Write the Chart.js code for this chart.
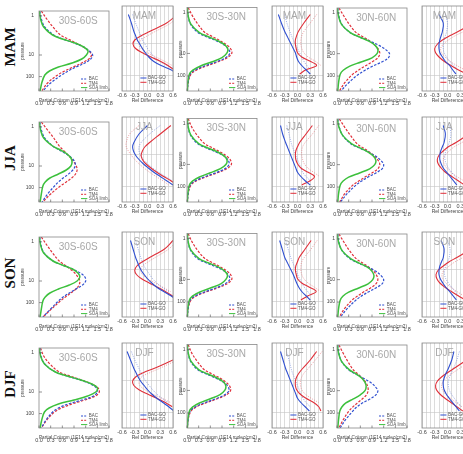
<!DOCTYPE html>
<html>
<head>
<meta charset="utf-8">
<script src="https://cdn.jsdelivr.net/npm/chart.js@4.4.1/dist/chart.umd.min.js"></script>
<style>
  html, body { margin: 0; padding: 0; background: #fff; }
  body { width: 463px; height: 454px; overflow: hidden; position: relative; }
  canvas { position: absolute; }
  .season {
    position: absolute; width: 60px; height: 20px; line-height: 20px; text-align: center;
    font: bold 15px "Liberation Serif", "DejaVu Serif", serif; color: #111;
    transform: rotate(-90deg);
  }
</style>
</head>
<body>
<script>
// ---- data ----
const seasons = ["MAM", "JJA", "SON", "DJF"];
const regions = ["30S-60S", "30S-30N", "30N-60N"];
// vertical position of the profile levels (0 = top of panel, 1 = bottom)
const levels = [0, 0.1, 0.2, 0.3, 0.35, 0.4, 0.45, 0.5, 0.55, 0.6, 0.65, 0.7, 0.75, 0.8, 0.9, 1.0];
const pressureTickPos = [0.06, 0.55, 0.82];
const pressureTickLabels = ["1", "10", "100"];
const relGridPos = [0.44, 0.82];

// partial column profiles (1E14 molec/cm2), one row per region
const soaMAM = [
  [0.01,0.04,0.12,0.35,0.6,0.92,1.15,1.26,1.22,1.1,0.85,0.5,0.27,0.15,0.07,0.03],
  [0.01,0.03,0.1,0.32,0.55,0.8,0.98,1.05,1.02,0.9,0.65,0.35,0.15,0.06,0.02,0.01],
  [0.01,0.04,0.12,0.35,0.58,0.82,0.98,1.05,1.03,0.9,0.62,0.33,0.16,0.08,0.04,0.02]];
const bacMAM = [
  [0.02,0.06,0.15,0.38,0.62,0.9,1.15,1.3,1.38,1.33,1.18,0.95,0.75,0.58,0.3,0.1],
  [0.01,0.03,0.09,0.28,0.5,0.76,0.96,1.07,1.1,1.0,0.76,0.45,0.2,0.08,0.03,0.01],
  [0.02,0.05,0.13,0.35,0.58,0.85,1.08,1.25,1.35,1.32,1.15,0.92,0.72,0.55,0.3,0.1]];
const tm4MAM = [
  [0.06,0.2,0.36,0.55,0.75,0.95,1.14,1.28,1.35,1.28,1.1,0.88,0.66,0.48,0.22,0.07],
  [0.03,0.14,0.28,0.46,0.66,0.86,1.03,1.13,1.15,1.04,0.8,0.5,0.24,0.1,0.03,0.01],
  [0.05,0.18,0.32,0.5,0.68,0.85,0.98,1.07,1.1,1.05,0.9,0.72,0.55,0.4,0.2,0.06]];

const soaJJA = [
  [0.01,0.04,0.12,0.35,0.55,0.72,0.82,0.85,0.82,0.7,0.5,0.28,0.16,0.1,0.06,0.03],
  [0.01,0.03,0.1,0.3,0.52,0.78,0.96,1.03,1.0,0.86,0.6,0.32,0.14,0.06,0.02,0.01],
  [0.01,0.05,0.15,0.38,0.6,0.8,0.94,1.0,0.97,0.84,0.58,0.3,0.15,0.08,0.04,0.02]];
const bacJJA = [
  [0.02,0.06,0.15,0.35,0.52,0.7,0.84,0.92,0.93,0.87,0.76,0.62,0.5,0.4,0.22,0.08],
  [0.01,0.03,0.09,0.27,0.48,0.74,0.95,1.06,1.08,0.98,0.74,0.44,0.2,0.08,0.03,0.01],
  [0.02,0.06,0.15,0.36,0.58,0.82,1.0,1.13,1.2,1.16,1.0,0.8,0.62,0.48,0.26,0.09]];
const tm4JJA = [
  [0.06,0.22,0.38,0.52,0.62,0.72,0.82,0.9,0.96,0.98,0.94,0.84,0.7,0.55,0.3,0.1],
  [0.03,0.12,0.26,0.45,0.64,0.85,1.02,1.12,1.14,1.03,0.78,0.48,0.23,0.1,0.03,0.01],
  [0.06,0.2,0.35,0.52,0.68,0.84,0.97,1.06,1.1,1.05,0.9,0.72,0.55,0.4,0.2,0.07]];

const soaSON = [
  [0.01,0.04,0.12,0.36,0.6,0.86,1.0,1.05,0.98,0.78,0.5,0.28,0.16,0.1,0.06,0.03],
  [0.01,0.03,0.1,0.31,0.54,0.8,0.97,1.04,1.0,0.88,0.62,0.33,0.14,0.06,0.02,0.01],
  [0.01,0.04,0.13,0.36,0.57,0.78,0.9,0.95,0.92,0.8,0.56,0.3,0.15,0.08,0.04,0.02]];
const bacSON = [
  [0.02,0.05,0.13,0.36,0.6,0.86,1.06,1.18,1.2,1.12,0.95,0.78,0.62,0.5,0.3,0.1],
  [0.01,0.03,0.09,0.27,0.49,0.75,0.96,1.07,1.1,0.99,0.75,0.45,0.2,0.08,0.03,0.01],
  [0.02,0.05,0.13,0.34,0.55,0.8,1.0,1.13,1.2,1.16,1.0,0.8,0.62,0.48,0.26,0.09]];
const tm4SON = [
  [0.06,0.2,0.35,0.52,0.66,0.8,0.92,1.0,1.05,1.03,0.95,0.82,0.68,0.55,0.32,0.1],
  [0.03,0.13,0.27,0.46,0.65,0.86,1.03,1.13,1.15,1.04,0.79,0.49,0.23,0.1,0.03,0.01],
  [0.05,0.18,0.32,0.5,0.66,0.82,0.95,1.02,1.05,1.0,0.86,0.68,0.52,0.38,0.19,0.06]];

const soaDJF = [
  [0.01,0.04,0.14,0.42,0.72,1.08,1.36,1.5,1.46,1.25,0.9,0.5,0.26,0.14,0.07,0.03],
  [0.01,0.03,0.1,0.3,0.52,0.77,0.94,1.0,0.97,0.85,0.6,0.32,0.14,0.06,0.02,0.01],
  [0.01,0.04,0.12,0.32,0.5,0.64,0.72,0.75,0.72,0.6,0.42,0.22,0.12,0.07,0.04,0.02]];
const bacDJF = [
  [0.02,0.05,0.15,0.42,0.72,1.06,1.33,1.48,1.5,1.4,1.1,0.75,0.5,0.35,0.18,0.06],
  [0.01,0.03,0.09,0.27,0.48,0.73,0.93,1.05,1.08,0.98,0.74,0.44,0.2,0.08,0.03,0.01],
  [0.02,0.05,0.12,0.3,0.48,0.68,0.86,0.98,1.05,1.0,0.85,0.65,0.5,0.4,0.22,0.08]];
const tm4DJF = [
  [0.04,0.12,0.28,0.52,0.8,1.1,1.36,1.52,1.55,1.45,1.18,0.85,0.58,0.4,0.2,0.06],
  [0.03,0.12,0.26,0.44,0.63,0.84,1.0,1.1,1.12,1.02,0.78,0.48,0.23,0.1,0.03,0.01],
  [0.05,0.16,0.28,0.42,0.54,0.65,0.74,0.79,0.8,0.76,0.65,0.52,0.4,0.3,0.16,0.05]];

// relative differences (null = not plotted)
const _ = null;
const bacGoMAM = [
  [_,-0.45,-0.38,-0.32,-0.28,-0.24,-0.18,-0.12,-0.05,0.03,0.14,0.32,0.55,0.7,_,_],
  [_,-0.45,-0.38,-0.3,-0.25,-0.2,-0.15,-0.1,-0.05,-0.02,0.02,0.1,0.2,0.3,_,_],
  [_,-0.2,-0.1,-0.12,-0.15,-0.18,-0.2,-0.2,-0.18,-0.12,-0.05,0.05,0.12,0.2,_,_]];
const tm4GoMAM = [
  [_,0.7,0.45,0.05,-0.15,-0.3,-0.34,-0.28,-0.12,0.08,0.3,0.48,0.62,0.72,_,_],
  [_,0.3,0.15,0.02,-0.02,-0.05,-0.05,-0.03,0.0,0.1,0.3,0.45,0.2,0.05,_,_],
  [_,_,0.6,0.25,0.05,-0.12,-0.24,-0.3,-0.28,-0.2,-0.08,0.08,0.25,0.45,_,_]];
const bacGoSdMAM = [
  [_,-0.35,-0.28,-0.2,-0.16,-0.12,-0.06,0.0,0.08,0.16,0.28,0.46,0.66,_,_,_],
  [_,-0.3,-0.25,-0.18,-0.14,-0.1,-0.05,0.0,0.05,0.1,0.15,0.22,0.3,_,_,_],
  [_,-0.05,0.0,-0.02,-0.05,-0.08,-0.1,-0.1,-0.08,-0.02,0.05,0.15,0.22,_,_,_]];
const tm4GoSdMAM = [
  [_,0.75,0.55,0.18,0.0,-0.15,-0.2,-0.15,0.0,0.2,0.4,0.58,_,_,_,_],
  [_,0.45,0.3,0.15,0.1,0.08,0.08,0.1,0.15,0.25,0.42,0.55,_,_,_,_],
  [_,_,0.7,0.38,0.18,0.02,-0.1,-0.16,-0.14,-0.06,0.06,0.22,0.4,_,_,_]];

const bacGoJJA = [
  [_,0.0,-0.2,-0.32,-0.35,-0.33,-0.28,-0.2,-0.1,0.02,0.15,0.3,0.45,0.6,_,_],
  [_,-0.4,-0.35,-0.28,-0.24,-0.2,-0.16,-0.12,-0.08,-0.04,0.0,0.08,0.18,0.3,_,_],
  [_,-0.1,-0.05,-0.08,-0.12,-0.16,-0.18,-0.18,-0.15,-0.1,-0.02,0.06,0.14,0.22,_,_]];
const tm4GoJJA = [
  [_,0.55,0.3,0.05,-0.06,-0.12,-0.15,-0.12,-0.04,0.08,0.22,0.38,0.55,0.7,_,_],
  [_,0.35,0.2,0.05,0.0,-0.04,-0.05,-0.04,0.0,0.08,0.25,0.4,0.3,0.1,_,_],
  [_,_,0.5,0.2,0.02,-0.1,-0.2,-0.24,-0.22,-0.15,-0.05,0.1,0.25,0.4,_,_]];
const bacGoSdJJA = [
  [_,0.3,0.05,-0.15,-0.2,-0.2,-0.16,-0.1,0.0,0.12,0.26,0.42,0.58,_,_,_],
  [_,-0.25,-0.2,-0.15,-0.12,-0.08,-0.04,0.0,0.04,0.08,0.12,0.2,0.3,_,_,_],
  [_,0.05,0.08,0.04,0.0,-0.04,-0.06,-0.06,-0.03,0.02,0.1,0.18,0.26,_,_,_]];
const tm4GoSdJJA = [
  [_,-0.2,-0.42,-0.5,-0.5,-0.45,-0.38,-0.3,-0.2,-0.08,0.05,0.2,0.36,0.5,_,_],
  [_,0.5,0.35,0.18,0.12,0.1,0.1,0.12,0.16,0.24,0.38,0.52,_,_,_,_],
  [_,_,0.62,0.34,0.16,0.04,-0.06,-0.1,-0.08,-0.02,0.08,0.22,0.38,_,_,_]];

const bacGoSON = [
  [_,-0.4,-0.34,-0.28,-0.24,-0.2,-0.15,-0.08,0.0,0.1,0.22,0.38,0.55,0.68,_,_],
  [_,-0.42,-0.36,-0.3,-0.25,-0.2,-0.15,-0.1,-0.06,-0.02,0.03,0.1,0.2,0.3,_,_],
  [_,-0.15,-0.08,-0.1,-0.14,-0.18,-0.2,-0.2,-0.17,-0.11,-0.04,0.05,0.13,0.21,_,_]];
const tm4GoSON = [
  [_,0.6,0.4,0.05,-0.12,-0.25,-0.3,-0.26,-0.14,0.04,0.24,0.42,0.58,0.7,_,_],
  [_,0.32,0.18,0.04,0.0,-0.04,-0.05,-0.03,0.0,0.1,0.28,0.44,0.25,0.08,_,_],
  [_,_,0.55,0.22,0.04,-0.1,-0.22,-0.27,-0.25,-0.18,-0.06,0.09,0.25,0.42,_,_]];
const bacGoSdSON = [
  [_,-0.28,-0.22,-0.16,-0.12,-0.08,-0.02,0.05,0.12,0.22,0.34,0.5,_,_,_,_],
  [_,-0.28,-0.22,-0.16,-0.12,-0.08,-0.04,0.0,0.05,0.1,0.16,0.24,0.32,_,_,_],
  [_,0.0,0.06,0.04,0.0,-0.04,-0.07,-0.07,-0.04,0.02,0.1,0.18,0.26,_,_,_]];
const tm4GoSdSON = [
  [_,0.7,0.5,0.18,0.02,-0.12,-0.16,-0.12,0.0,0.18,0.36,0.54,_,_,_,_],
  [_,0.46,0.32,0.16,0.1,0.08,0.08,0.1,0.15,0.25,0.4,0.54,_,_,_,_],
  [_,_,0.66,0.36,0.18,0.04,-0.08,-0.13,-0.11,-0.04,0.08,0.22,0.38,_,_,_]];

const bacGoDJF = [
  [_,-0.48,-0.4,-0.32,-0.27,-0.22,-0.16,-0.08,0.0,0.1,0.22,0.36,0.5,0.62,_,_],
  [_,-0.4,-0.34,-0.28,-0.24,-0.2,-0.16,-0.12,-0.08,-0.04,0.0,0.08,0.18,0.28,_,_],
  [_,0.15,0.1,0.02,-0.03,-0.07,-0.1,-0.1,-0.08,-0.03,0.04,0.12,0.2,0.28,_,_]];
const tm4GoDJF = [
  [_,_,0.6,0.15,-0.1,-0.28,-0.35,-0.32,-0.2,0.0,0.22,0.42,0.58,_,_,_],
  [_,0.45,0.3,0.12,0.04,-0.02,-0.05,-0.05,-0.02,0.06,0.2,0.38,0.5,0.55,_,_],
  [_,_,0.45,0.15,0.0,-0.14,-0.24,-0.28,-0.26,-0.18,-0.06,0.08,0.22,0.36,_,_]];
const bacGoSdDJF = [
  [_,-0.38,-0.3,-0.2,-0.15,-0.1,-0.04,0.04,0.12,0.22,0.34,0.48,_,_,_,_],
  [_,-0.26,-0.2,-0.15,-0.12,-0.08,-0.04,0.0,0.04,0.08,0.13,0.2,0.3,_,_,_],
  [_,0.28,0.22,0.14,0.09,0.05,0.02,0.02,0.04,0.09,0.16,0.24,0.32,_,_,_]];
const tm4GoSdDJF = [
  [_,_,0.7,0.28,0.05,-0.14,-0.2,-0.18,-0.06,0.12,0.34,0.54,_,_,_,_],
  [_,0.58,0.42,0.25,0.16,0.1,0.07,0.07,0.1,0.18,0.32,0.5,_,_,_,_],
  [_,_,0.56,0.28,0.13,0.0,-0.1,-0.14,-0.12,-0.05,0.07,0.2,0.34,_,_,_]];

// ---- layout ----
const ROW_TOP = [6, 117, 232, 343];
const PLOT_H = 85;
const PROF_LEFT = [39, 187, 337];
const PROF_AXIS_W = [20, 10, 12];
const PROF_TICK_PAD = [5, 1.5, 2];
const PROF_W = 70;
const REL_LEFT = [122, 272, 422];
const REL_W = 51;

const BLUE = "#2f4fd0";
const RED = "#e0303a";
const GREEN = "#3cc03c";
const FONT = "'Liberation Sans', 'DejaVu Sans', sans-serif";

const table = {
  MAM: { soa: soaMAM, bac: bacMAM, tm4: tm4MAM, bacGo: bacGoMAM, tm4Go: tm4GoMAM, bacSd: bacGoSdMAM, tm4Sd: tm4GoSdMAM },
  JJA: { soa: soaJJA, bac: bacJJA, tm4: tm4JJA, bacGo: bacGoJJA, tm4Go: tm4GoJJA, bacSd: bacGoSdJJA, tm4Sd: tm4GoSdJJA },
  SON: { soa: soaSON, bac: bacSON, tm4: tm4SON, bacGo: bacGoSON, tm4Go: tm4GoSON, bacSd: bacGoSdSON, tm4Sd: tm4GoSdSON },
  DJF: { soa: soaDJF, bac: bacDJF, tm4: tm4DJF, bacGo: bacGoDJF, tm4Go: tm4GoDJF, bacSd: bacGoSdDJF, tm4Sd: tm4GoSdDJF }
};

function toPoints(values) {
  const pts = [];
  values.forEach((v, i) => { if (v !== null) pts.push({ x: v, y: levels[i] }); });
  return pts;
}

// box, inward ticks, panel title and legend
const decor = {
  id: "decor",
  afterDraw(chart, args, o) {
    const { ctx, chartArea: a } = chart;
    ctx.save();
    ctx.strokeStyle = "#888";
    ctx.lineWidth = 0.8;
    ctx.strokeRect(a.left, a.top, a.width, a.height);
    if (o.ticks) {
      ctx.strokeStyle = "#666";
      ctx.lineWidth = 0.7;
      chart.scales.x.ticks.forEach(t => {
        const px = chart.scales.x.getPixelForValue(t.value);
        ctx.beginPath(); ctx.moveTo(px, a.bottom); ctx.lineTo(px, a.bottom - 2.5); ctx.stroke();
      });
      pressureTickPos.forEach(v => {
        const py = chart.scales.y.getPixelForValue(v);
        ctx.beginPath(); ctx.moveTo(a.left, py); ctx.lineTo(a.left + 3, py); ctx.stroke();
      });
    }
    ctx.fillStyle = "#a8a8a8";
    ctx.font = "10px " + FONT;
    ctx.textAlign = "center";
    ctx.textBaseline = "middle";
    ctx.fillText(o.title, a.left + a.width * o.titleX, a.top + 10);
    o.legend.forEach((it, i) => {
      const y = a.bottom - o.legendBottom + i * 4.3;
      ctx.strokeStyle = it.color;
      ctx.lineWidth = 1;
      ctx.setLineDash(it.dash);
      ctx.beginPath();
      ctx.moveTo(a.left + a.width * o.legendX0, y);
      ctx.lineTo(a.left + a.width * o.legendX1, y);
      ctx.stroke();
      ctx.setLineDash([]);
      ctx.fillStyle = "#555";
      ctx.font = "4.5px " + FONT;
      ctx.textAlign = "left";
      ctx.fillText(it.label, a.left + a.width * o.legendX1 + 1.5, y);
    });
    ctx.restore();
  }
};
Chart.register(decor);

function addCanvas(left, top, w, h) {
  const c = document.createElement("canvas");
  c.width = w; c.height = h;
  c.style.left = left + "px"; c.style.top = top + "px";
  c.style.width = w + "px"; c.style.height = h + "px";
  document.body.appendChild(c);
  return c;
}

function profileChart(season, r) {
  const d = table[season];
  const padT = 3, padR = 8, axisW = PROF_AXIS_W[r], axisH = 14;
  const c = addCanvas(PROF_LEFT[r] - axisW, ROW_TOP[seasons.indexOf(season)] - padT,
    axisW + PROF_W + padR, padT + PLOT_H + axisH);
  new Chart(c, {
    type: "line",
    data: {
      datasets: [
        { label: "SOA limb", data: toPoints(d.soa[r]), borderColor: GREEN, borderWidth: 1.5 },
        { label: "BAC", data: toPoints(d.bac[r]), borderColor: BLUE, borderWidth: 1.2, borderDash: [2.5, 1.5] },
        { label: "TM4", data: toPoints(d.tm4[r]), borderColor: RED, borderWidth: 1.2, borderDash: [2.5, 1.5] }
      ]
    },
    options: {
      responsive: false, animation: false, devicePixelRatio: 1,
      layout: { padding: { top: padT, right: padR, left: 0, bottom: 0 } },
      elements: { point: { radius: 0 }, line: { tension: 0.35, borderWidth: 1 } },
      plugins: {
        legend: { display: false }, tooltip: { enabled: false },
        decor: {
          title: regions[r], titleX: 0.56, ticks: true,
          legendX0: 0.6, legendX1: 0.69, legendBottom: 12,
          legend: [
            { label: "BAC", color: BLUE, dash: [2, 1.2] },
            { label: "TM4", color: RED, dash: [2, 1.2] },
            { label: "SOA limb", color: GREEN, dash: [] }
          ]
        }
      },
      scales: {
        x: {
          type: "linear", min: 0, max: 1.8,
          afterFit(s) { s.height = axisH; },
          ticks: { stepSize: 0.3, autoSkip: false, maxRotation: 0, padding: 1, color: "#444",
                   font: { size: 5.5, family: FONT }, callback: v => v.toFixed(1) },
          grid: { display: false }, border: { display: false },
          title: { display: true, text: "Partial Column (1E14 molec/cm2)", color: "#444",
                   font: { size: 5, family: FONT }, padding: { top: 0, bottom: 1 } }
        },
        y: {
          type: "linear", min: 0, max: 1, reverse: true,
          afterFit(s) { s.width = axisW; },
          afterBuildTicks(s) { s.ticks = pressureTickPos.map(v => ({ value: v })); },
          ticks: { autoSkip: false, padding: PROF_TICK_PAD[r], color: "#444", font: { size: 5, family: FONT },
                   callback: (v, i) => pressureTickLabels[i] },
          grid: { display: false, drawTicks: false }, border: { display: false },
          title: { display: true, text: "pressure", color: "#444",
                   font: { size: 4.5, family: FONT }, padding: { top: 1, bottom: 0 } }
        }
      }
    }
  });
}

function relChart(season, r) {
  const d = table[season];
  const padT = 3, padR = 8, axisW = 8, axisH = 14;
  const c = addCanvas(REL_LEFT[r] - axisW, ROW_TOP[seasons.indexOf(season)] - padT,
    axisW + REL_W + padR, padT + PLOT_H + axisH);
  new Chart(c, {
    type: "line",
    data: {
      datasets: [
        { label: "BAC-GO", data: toPoints(d.bacGo[r]), borderColor: BLUE, borderWidth: 1.1 },
        { label: "TM4-GO", data: toPoints(d.tm4Go[r]), borderColor: RED, borderWidth: 1.1 },
        { label: "BAC-GO sd", data: toPoints(d.bacSd[r]), borderColor: "#7086dc", borderWidth: 0.7, borderDash: [1, 1.3] },
        { label: "TM4-GO sd", data: toPoints(d.tm4Sd[r]), borderColor: "#e77a80", borderWidth: 0.7, borderDash: [1, 1.3] }
      ]
    },
    options: {
      responsive: false, animation: false, devicePixelRatio: 1,
      layout: { padding: { top: padT, right: padR, left: 0, bottom: 0 } },
      elements: { point: { radius: 0 }, line: { tension: 0.35, borderWidth: 1 } },
      plugins: {
        legend: { display: false }, tooltip: { enabled: false },
        decor: {
          title: season, titleX: 0.44, ticks: false,
          legendX0: 0.36, legendX1: 0.48, legendBottom: 13,
          legend: [
            { label: "BAC-GO", color: BLUE, dash: [] },
            { label: "TM4-GO", color: RED, dash: [] }
          ]
        }
      },
      scales: {
        x: {
          type: "linear", min: -0.6, max: 0.6,
          afterFit(s) { s.height = axisH; },
          ticks: { stepSize: 0.1, autoSkip: false, maxRotation: 0, padding: 1, color: "#444",
                   font: { size: 5.5, family: FONT },
                   callback: v => { const k = Math.round(v * 10); return k % 3 === 0 ? (k / 10).toFixed(1) : ""; } },
          grid: { display: true, color: "#c4c4c4", lineWidth: 0.6, drawTicks: false }, border: { display: false },
          title: { display: true, text: "Rel Difference", color: "#444",
                   font: { size: 5, family: FONT }, padding: { top: 0, bottom: 1 } }
        },
        y: {
          type: "linear", min: 0, max: 1, reverse: true,
          afterFit(s) { s.width = axisW; },
          afterBuildTicks(s) { s.ticks = relGridPos.map(v => ({ value: v })); },
          ticks: { display: false },
          grid: { display: true, color: "#c4c4c4", lineWidth: 0.6, drawTicks: false }, border: { display: false }
        }
      }
    }
  });
}

seasons.forEach((s, i) => {
  const lab = document.createElement("div");
  lab.className = "season";
  lab.textContent = s;
  lab.style.left = (12 - 30) + "px";
  lab.style.top = (ROW_TOP[i] + 41 - 10) + "px";
  document.body.appendChild(lab);
  for (let r = 0; r < 3; r++) {
    profileChart(s, r);
    relChart(s, r);
  }
});
</script>
</body>
</html>
